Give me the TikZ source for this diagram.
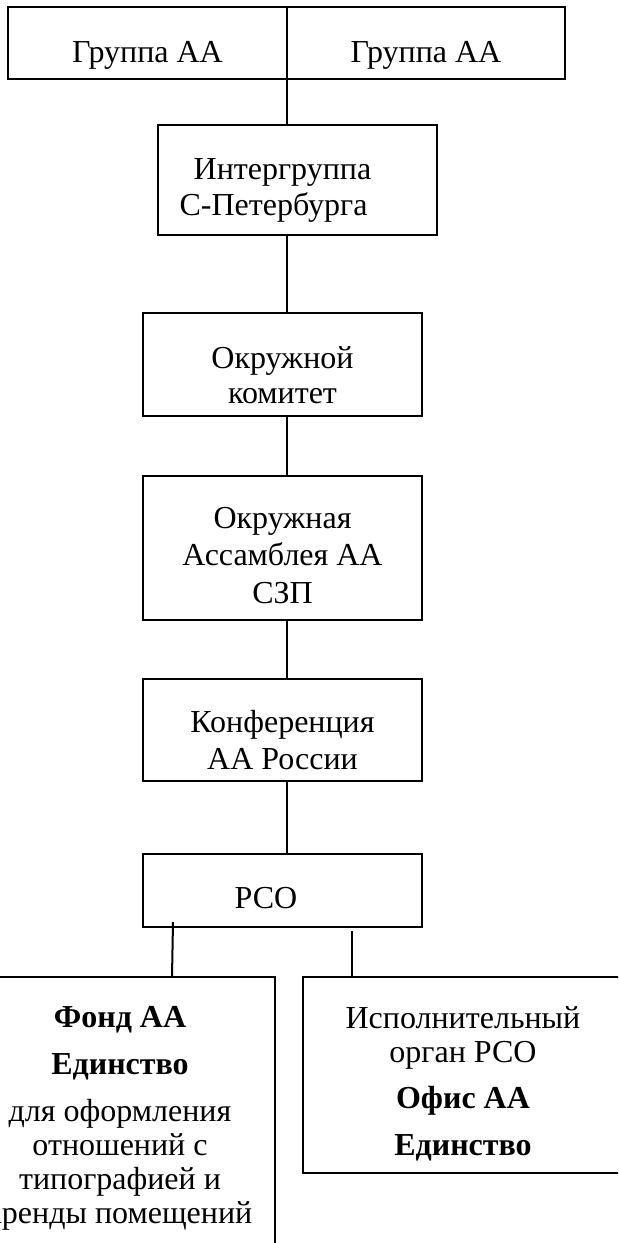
\documentclass[tikz,border=0pt]{standalone}
\usepackage{fontspec}
\setmainfont{Liberation Serif}
\begin{document}
\begin{tikzpicture}[x=0.5pt,y=-0.5pt,
  box/.style={draw=black, line width=1pt, rectangle, inner sep=0pt, outer sep=0pt, fill=none},
  txt/.style={inner sep=0pt, align=center, anchor=base, font=\fontsize{16}{18}\selectfont},
  conn/.style={draw=black, line width=1pt}]
\useasboundingbox (0,0) rectangle (618,1243);
\clip (0,0) rectangle (618,1243);
\fill[white] (0,0) rectangle (618,1243);
% boxes
\node[box, minimum width=139.5pt, minimum height=36pt] (g1) at (147.5,43) {};
\node[box, minimum width=139pt, minimum height=36pt] (g2) at (426,43) {};
\node[box, minimum width=139.5pt, minimum height=55pt] (inter) at (297.5,180) {};
\node[box, minimum width=139.5pt, minimum height=51.5pt] (comm) at (282.5,364.5) {};
\node[box, minimum width=139.5pt, minimum height=72pt] (asm) at (282.5,548) {};
\node[box, minimum width=139.5pt, minimum height=51pt] (conf) at (282.5,730) {};
\node[box, minimum width=139.5pt, minimum height=36.5pt] (rso) at (282.5,890.5) {};
\node[box, minimum width=160pt, minimum height=151.5pt] (fond) at (115,1128.5) {};
\node[box, minimum width=168.5pt, minimum height=98pt] (office) at (471.5,1075) {};
% texts (anchor base = baseline of the last line)
\node[txt] (g1t) at (147.5,62) {Группа АА};
\node[txt] (g2t) at (426,62) {Группа АА};
\node[txt] (intert) at (278,215) {\hspace*{4.5pt}Интергруппа\\С-Петербурга\hspace*{4.5pt}};
\node[txt, font=\fontsize{16}{17.5}\selectfont] (commt) at (282.5,403) {Окружной\\комитет};
\node[txt, font=\fontsize{16}{18.75}\selectfont] (asmt) at (282.5,603) {Окружная\\Ассамблея АА\\СЗП};
\node[txt, font=\fontsize{16}{18.5}\selectfont] (conft) at (282.5,769) {Конференция\\АА России};
\node[txt] (rsot) at (266,908) {РСО};
\node[txt, font=\fontsize{16}{16.85}\selectfont] (fondt) at (120,1223) {{\bfseries Фонд АА}\\[6.65pt]{\bfseries Единство}\\[6.65pt]для оформления\\отношений с\\типографией и\\аренды помещений};
\node[txt, font=\fontsize{16}{17}\selectfont] (officet) at (463,1155) {Исполнительный\\орган РСО\\[6pt]{\bfseries Офис АА}\\[6.5pt]{\bfseries Единство}};
% connectors
\coordinate (sp) at (287,0);
\coordinate (lcA) at (173,922);
\coordinate (rcA) at (352,931);
\draw[conn] (g1.south -| sp) -- (inter.north -| sp);
\draw[conn] (inter.south -| sp) -- (comm.north -| sp);
\draw[conn] (comm.south -| sp) -- (asm.north -| sp);
\draw[conn] (asm.south -| sp) -- (conf.north -| sp);
\draw[conn] (conf.south -| sp) -- (rso.north -| sp);
\draw[conn] (lcA) -- ([xshift=-0.5pt]lcA |- fond.north);
\draw[conn] (rcA) -- (rcA |- office.north);
\end{tikzpicture}
\end{document}
